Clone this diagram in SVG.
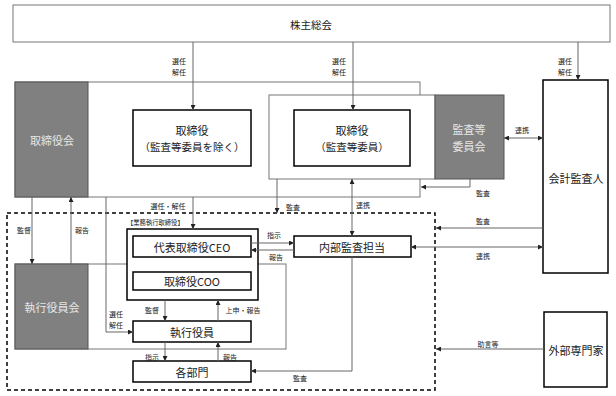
<svg xmlns="http://www.w3.org/2000/svg" width="616" height="396" viewBox="0 0 616 396">
<defs>
<marker id="ah" viewBox="0 0 6 6" refX="6" refY="3" markerWidth="5" markerHeight="5" markerUnits="userSpaceOnUse" orient="auto-start-reverse"><path d="M0,0 L6,3 L0,6 z" fill="#222"/></marker>
</defs>
<style>
.grp{fill:#fff;stroke:#777;stroke-width:1}
.gray{fill:#808080;stroke:#555;stroke-width:1}
.box{fill:#fff;stroke:#000;stroke-width:1.5}
.t{font-family:"Noto Sans CJK JP","Noto Sans",sans-serif;fill:#222;text-anchor:middle;dominant-baseline:central}
.tw{fill:#e6e6e6}
.s{font-size:7px}
.m{font-size:11px}
.c{fill:none;stroke:#666;stroke-width:1}
.a{marker-end:url(#ah)}
.d{marker-start:url(#ah);marker-end:url(#ah)}
.dash{fill:none;stroke:#000;stroke-width:1.5;stroke-dasharray:4,3}
</style>
<rect x="0" y="0" width="616" height="396" fill="#fff"/>
<g id="kabunushi"><rect class="grp" x="13" y="5" width="597" height="37"/><text class="t" x="311" y="24" font-size="10.5">株主総会</text></g>
<g id="torishimariyakukai"><rect class="grp" x="15" y="82" width="405" height="115"/><rect class="gray" x="15" y="82" width="73" height="115"/><text class="t tw m" x="52" y="140">取締役会</text></g>
<g id="kansa-iinkai"><rect class="grp" x="269" y="95" width="166" height="84"/><rect class="gray" x="435" y="95" width="69" height="84"/><text class="t tw m" x="469" y="129">監査等</text><text class="t tw m" x="469" y="146">委員会</text></g>
<g id="torishimariyaku1"><rect class="box" x="133" y="110" width="118" height="56"/><text class="t m" x="192" y="130">取締役</text><text class="t" x="192" y="146" font-size="10.5">（監査等委員を除く）</text></g>
<g id="torishimariyaku2"><rect class="box" x="294" y="110" width="116" height="56"/><text class="t m" x="352" y="130">取締役</text><text class="t" x="352" y="146" font-size="10.5">（監査等委員）</text></g>
<g id="kaikei"><rect class="box" x="543" y="80" width="65" height="193"/><text class="t m" x="576" y="178">会計監査人</text></g>
<g id="shikko-area"><rect class="dash" x="7" y="213" width="428" height="177"/></g>
<g id="shikko-yakuinkai"><rect class="grp" x="15" y="264" width="271" height="85"/><rect class="gray" x="15" y="264" width="73" height="85"/><text class="t tw m" x="52" y="307">執行役員会</text></g>
<g id="gyomu"><text class="t" x="127" y="222" font-size="6.3" style="text-anchor:start">【業務執行取締役】</text><rect class="box" x="127" y="229" width="131" height="71"/></g>
<g id="ceo"><rect class="box" x="133" y="236" width="118" height="21"/><text class="t m" x="192" y="246.5">代表取締役CEO</text></g>
<g id="coo"><rect class="box" x="133" y="272" width="118" height="18"/><text class="t m" x="192" y="281">取締役COO</text></g>
<g id="naibu"><rect class="box" x="294" y="236" width="117" height="21"/><text class="t m" x="352" y="246.5">内部監査担当</text></g>
<g id="shikko-yakuin"><rect class="box" x="133" y="321" width="118" height="21"/><text class="t m" x="192" y="331.5">執行役員</text></g>
<g id="kakubumon"><rect class="box" x="133" y="361" width="118" height="21"/><text class="t m" x="192" y="371.5">各部門</text></g>
<g id="gaibu"><rect class="box" x="544" y="312" width="63" height="75"/><text class="t m" x="576" y="350">外部専門家</text></g>
<g id="connectors">
<path class="c a" d="M193,42 V110"/>
<path class="c a" d="M353,42 V110"/>
<path class="c a" d="M578,42 V80"/>
<path class="c d" d="M504,138 H543"/>
<path class="c a" d="M470,179 V187 H421"/>
<path class="c a" d="M32,197 V264"/>
<path class="c a" d="M71,264 V197"/>
<path class="c a" d="M106,197 V332 H133"/>
<path class="c a" d="M193,197 V229"/>
<path class="c a" d="M277,179 V213"/>
<path class="c d" d="M352,179 V236"/>
<path class="c a" d="M251,243 H294"/>
<path class="c a" d="M294,250 H251"/>
<path class="c a" d="M543,228 H436"/>
<path class="c d" d="M411,247 H543"/>
<path class="c a" d="M352,257 V371 H251"/>
<path class="c a" d="M165,300 V321"/>
<path class="c a" d="M218,321 V300"/>
<path class="c a" d="M165,342 V361"/>
<path class="c a" d="M218,361 V342"/>
<path class="c a" d="M544,349 H436"/>
<text class="t s" x="179" y="61">選任</text><text class="t s" x="179" y="72">解任</text>
<text class="t s" x="339" y="61">選任</text><text class="t s" x="339" y="72">解任</text>
<text class="t s" x="565" y="61">選任</text><text class="t s" x="565" y="72">解任</text>
<text class="t s" x="522" y="130">連携</text>
<text class="t s" x="483" y="193">監査</text>
<text class="t s" x="168" y="206">選任・解任</text>
<text class="t s" x="293" y="207">監査</text>
<text class="t s" x="363" y="205">連携</text>
<text class="t s" x="24" y="230">監督</text>
<text class="t s" x="82" y="230">報告</text>
<text class="t s" x="274" y="235">指示</text>
<text class="t s" x="276" y="257">報告</text>
<text class="t s" x="483" y="221">監査</text>
<text class="t s" x="483" y="256">連携</text>
<text class="t s" x="116" y="314">選任</text><text class="t s" x="116" y="325">解任</text>
<text class="t s" x="152" y="310">監督</text>
<text class="t s" x="243" y="310">上申・報告</text>
<text class="t s" x="152" y="357">指示</text>
<text class="t s" x="230" y="357">報告</text>
<text class="t s" x="300" y="378">監査</text>
<text class="t s" x="488" y="344">助言等</text>
</g>
</svg>
